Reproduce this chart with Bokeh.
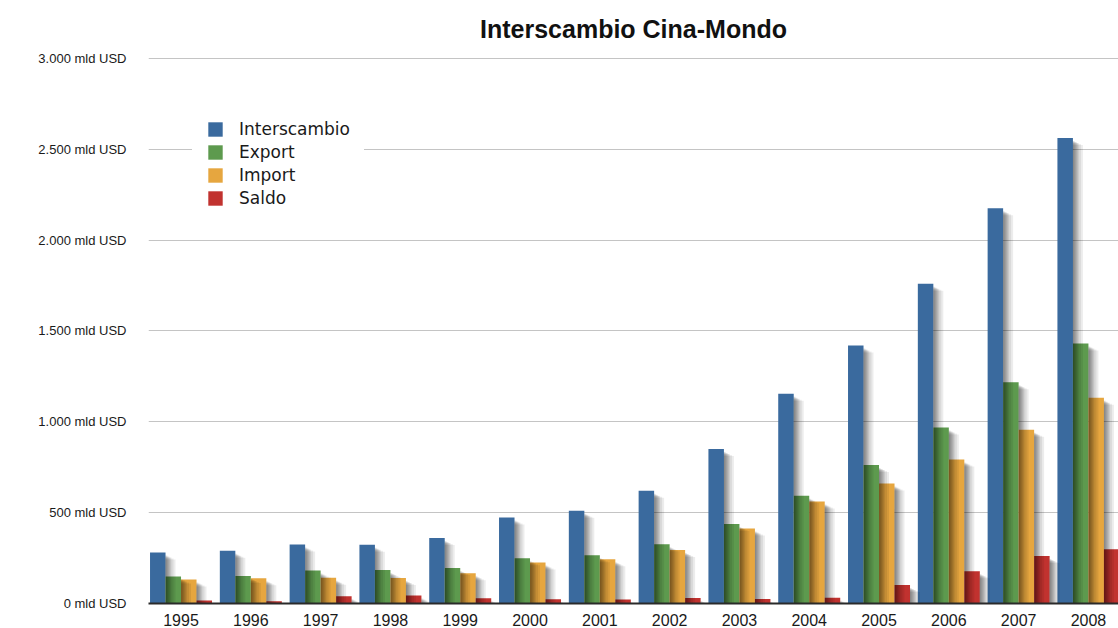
from bokeh.plotting import figure
from bokeh.models import FixedTicker, Legend, LegendItem
from bokeh.embed import file_html
from bokeh.resources import INLINE

# ---- data (mld USD) ----
years = ["1995", "1996", "1997", "1998", "1999", "2000", "2001",
         "2002", "2003", "2004", "2005", "2006", "2007", "2008"]
interscambio = [281, 290, 325, 324, 361, 474, 510, 620, 851, 1155, 1420, 1760, 2175, 2562]
export_vals = [149, 151, 182, 184, 195, 249, 266, 326, 438, 593, 762, 969, 1218, 1431]
import_vals = [132, 139, 142, 140, 166, 225, 244, 295, 413, 561, 660, 792, 956, 1133]
saldo = [17, 12, 40, 44, 29, 24, 22, 30, 25, 32, 102, 177, 262, 298]

series_names = ["Interscambio", "Export", "Import", "Saldo"]
series_values = [interscambio, export_vals, import_vals, saldo]
bar_colors = ["#3a6a9e", "#5d9a4e", "#e6a63f", "#c1322f"]

y_ticks = [0, 500, 1000, 1500, 2000, 2500, 3000]
y_tick_labels = ["0 mld USD", "500 mld USD", "1.000 mld USD", "1.500 mld USD",
                 "2.000 mld USD", "2.500 mld USD", "3.000 mld USD"]

title_text = "Interscambio Cina-Mondo"

# ---- figure ----
PX = 1 / 69.8          # x units per pixel
YPX = 3000 / 546       # y units per pixel
bar_w = 15.5 * PX
offsets = [-1.5 * bar_w, -0.5 * bar_w, 0.5 * bar_w, 1.5 * bar_w]

W, H = 1118, 628
left, top, bottom = 148, 50, 24
x_start = -0.466
x_end = x_start + (W - left) * PX
y_end = 3000 * (H - bottom - top) / 546

p = figure(width=W, height=H, output_backend="svg", toolbar_location=None,
           x_range=(x_start, x_end), y_range=(0, y_end),
           min_border_left=left, min_border_right=0,
           min_border_top=top, min_border_bottom=bottom)
p.outline_line_color = None
p.background_fill_color = "white"
p.border_fill_color = "white"

p.title.text = title_text
p.title.align = "center"
p.title.text_font = "Liberation Sans"
p.title.text_font_style = "bold"
p.title.text_font_size = "25px"
p.title.text_color = "#111111"
p.title.standoff = 15

idx = list(range(len(years)))

renderers = []
for k, (vals, col) in enumerate(zip(series_values, bar_colors)):
    xs = [i + offsets[k] for i in idx]
    r = p.vbar(x=xs, top=vals, width=bar_w, bottom=0,
               fill_color=col, line_color=None)
    renderers.append(r)

# soft drop shadows cast to the right of each bar
for k, vals in enumerate(series_values):
    for wpx, dy in [(1, 3), (2, 3), (3, 4), (4, 4), (5, 5), (6, 5), (8, 6), (10, 7)]:
        xs = [i + offsets[k] + bar_w / 2 + wpx * PX / 2 for i in idx]
        tops = [max(v - dy * YPX, 0) for v in vals]
        p.vbar(x=xs, top=tops, width=wpx * PX, bottom=0,
               fill_color="black", fill_alpha=0.075, line_color=None)

# axes
p.xaxis.ticker = FixedTicker(ticks=idx)
p.xaxis.major_label_overrides = {i: y for i, y in zip(idx, years)}
p.xaxis.major_tick_line_color = None
p.xaxis.minor_tick_line_color = None
p.xaxis.axis_line_color = "#2a2a2a"
p.xaxis.axis_line_width = 2
p.xaxis.major_label_standoff = 4
p.xaxis.major_label_text_font = "Liberation Sans"
p.xaxis.major_label_text_font_size = "16px"
p.xaxis.major_label_text_color = "#1a1a1a"

p.yaxis.ticker = FixedTicker(ticks=y_ticks)
p.yaxis.major_label_overrides = {t: l for t, l in zip(y_ticks, y_tick_labels)}
p.yaxis.axis_line_color = None
p.yaxis.major_tick_line_color = None
p.yaxis.minor_tick_line_color = None
p.yaxis.major_label_standoff = 16
p.yaxis.major_label_text_font = "Liberation Sans"
p.yaxis.major_label_text_font_size = "13px"
p.yaxis.major_label_text_color = "#1a1a1a"

p.xgrid.grid_line_color = None
p.ygrid.grid_line_color = "#c4c4c4"
p.ygrid.grid_line_width = 1

# legend
items = [LegendItem(label=n, renderers=[r]) for n, r in zip(series_names, renderers)]
legend = Legend(items=items, location=(44, 381))
legend.border_line_alpha = 0
legend.background_fill_color = "white"
legend.background_fill_alpha = 1
legend.padding = 14
legend.spacing = 3
legend.glyph_width = 18
legend.glyph_height = 18
legend.label_height = 20
legend.label_standoff = 15
legend.label_text_font = "DejaVu Sans"
legend.label_text_font_size = "17px"
legend.label_text_color = "#1a1a1a"
legend.margin = 0
p.add_layout(legend)

open("out.html", "w").write(file_html(p, INLINE))
